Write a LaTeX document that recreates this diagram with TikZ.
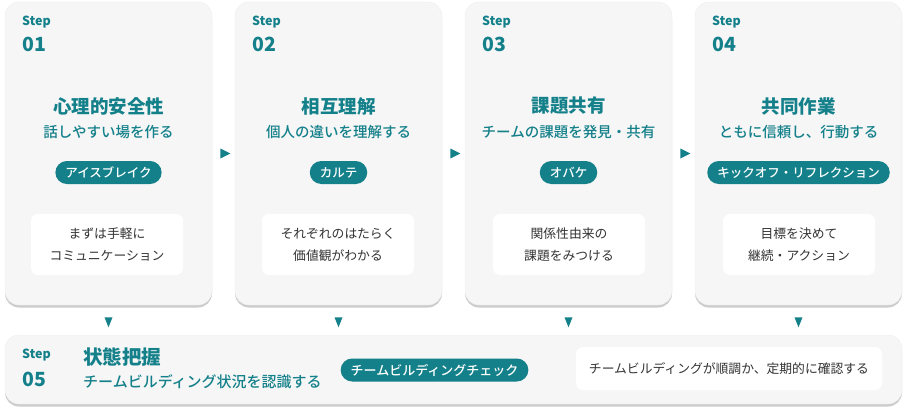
\documentclass[tikz,border=0pt]{standalone}
\usepackage{fontspec}
\setmainfont{Noto Sans CJK JP}
\newfontfamily\medfont{Noto Sans CJK JP Medium}
\usetikzlibrary{arrows.meta,positioning,calc,shapes.geometric,shadows}
\definecolor{stepteal}{HTML}{13808A}
\definecolor{cardbg}{HTML}{F6F6F6}
\definecolor{bodytext}{HTML}{333333}

\begin{document}
\begin{tikzpicture}[x=1pt,y=-1pt,
  card/.style={fill=cardbg,draw=black!7,rounded corners=14pt,minimum width=207pt,minimum height=303pt,
    drop shadow={shadow xshift=0pt,shadow yshift=-2.5pt,fill=black!40,opacity=.5}},
  wide/.style={card,minimum width=897pt,minimum height=69pt},
  steplbl/.style={anchor=west,inner sep=0pt,text=stepteal,font=\fontsize{12.5}{13}\selectfont\bfseries},
  stepnum/.style={anchor=west,inner sep=0pt,text=stepteal,font=\fontsize{19.5}{20}\selectfont\bfseries},
  title/.style={inner sep=0pt,text=stepteal,font=\fontsize{18.5}{20}\selectfont\bfseries},
  sub/.style={inner sep=0pt,text=stepteal,font=\fontsize{14.5}{16}\selectfont\medfont},
  pill/.style={fill=stepteal,text=white,rounded corners=11.5pt,minimum height=23pt,inner xsep=10pt,inner ysep=0pt,
    font=\fontsize{12.5}{13}\selectfont\medfont},
  memo/.style={fill=white,rounded corners=7pt,minimum width=152pt,minimum height=61pt,align=center,text=bodytext,
    font=\fontsize{12.8}{22}\selectfont},
  arrowR/.style={isosceles triangle,isosceles triangle stretches,fill=stepteal,inner sep=0pt,minimum width=10pt,minimum height=10pt},
  arrowD/.style={arrowR,minimum width=8pt,minimum height=10pt,shape border rotate=-90}]
\useasboundingbox (0,0) rectangle (907,412);

% step cards
\node[card] (c1) at (108.5,153.5) {};
\node[card] (c2) at (338.5,153.5) {};
\node[card] (c3) at (568.5,153.5) {};
\node[card] (c4) at (798.5,153.5) {};
\node[wide] (c5) at (453.5,369.5) {};

% step 01
\node[steplbl] (s1) at (22,22) {Step};
\node[stepnum] (n1) at (22,44) {01};
\node[title] (t1) at (108.5,106) {心理的安全性};
\node[sub] (u1) at (108.5,132) {話しやすい場を作る};
\node[pill] (p1) at (108.5,172.5) {アイスブレイク};
\node[memo] (m1) at (107,244.5) {まずは手軽に\\コミュニケーション};

% step 02
\node[steplbl] (s2) at (252,22) {Step};
\node[stepnum] (n2) at (252,44) {02};
\node[title] (t2) at (338.5,106) {相互理解};
\node[sub] (u2) at (338.5,132) {個人の違いを理解する};
\node[pill] (p2) at (338.5,172.5) {カルテ};
\node[memo] (m2) at (338,244.5) {それぞれのはたらく\\価値観がわかる};

% step 03
\node[steplbl] (s3) at (482,22) {Step};
\node[stepnum] (n3) at (482,44) {03};
\node[title] (t3) at (568.5,106) {課題共有};
\node[sub] (u3) at (568.5,132) {チームの課題を発見・共有};
\node[pill] (p3) at (568.5,172.5) {オバケ};
\node[memo] (m3) at (569,244.5) {関係性由来の\\課題をみつける};

% step 04
\node[steplbl] (s4) at (712,22) {Step};
\node[stepnum] (n4) at (712,44) {04};
\node[title] (t4) at (798.5,106) {共同作業};
\node[sub] (u4) at (798.5,132) {ともに信頼し、行動する};
\node[pill] (p4) at (798.5,172.5) {キックオフ・リフレクション};
\node[memo] (m4) at (799,244.5) {目標を決めて\\継続・アクション};

% step 05
\node[steplbl] (s5) at (22,355) {Step};
\node[stepnum] (n5) at (22,379) {05};
\node[title,anchor=west,font=\fontsize{19.5}{20}\selectfont\bfseries] (t5) at (83,357) {状態把握};
\node[sub,anchor=west,font=\fontsize{15}{16}\selectfont\medfont] (u5) at (83,382) {チームビルディング状況を認識する};
\node[pill,font=\fontsize{13}{14}\selectfont\medfont] (p5) at (434.5,370) {チームビルディングチェック};
\node[memo,minimum width=306pt,minimum height=43pt] (m5) at (729,368.5) {チームビルディングが順調か、定期的に確認する};

% flow marks
\node[arrowR] (a12) at ($(c1.east)!.5!(c2.west)$) {};
\node[arrowR] (a23) at ($(c2.east)!.5!(c3.west)$) {};
\node[arrowR] (a34) at ($(c3.east)!.5!(c4.west)$) {};
\node[arrowD] (d1) at ($(c1.south)!.5!(c1.south |- c5.north)$) {};
\node[arrowD] (d2) at ($(c2.south)!.5!(c2.south |- c5.north)$) {};
\node[arrowD] (d3) at ($(c3.south)!.5!(c3.south |- c5.north)$) {};
\node[arrowD] (d4) at ($(c4.south)!.5!(c4.south |- c5.north)$) {};
\end{tikzpicture}
\end{document}
